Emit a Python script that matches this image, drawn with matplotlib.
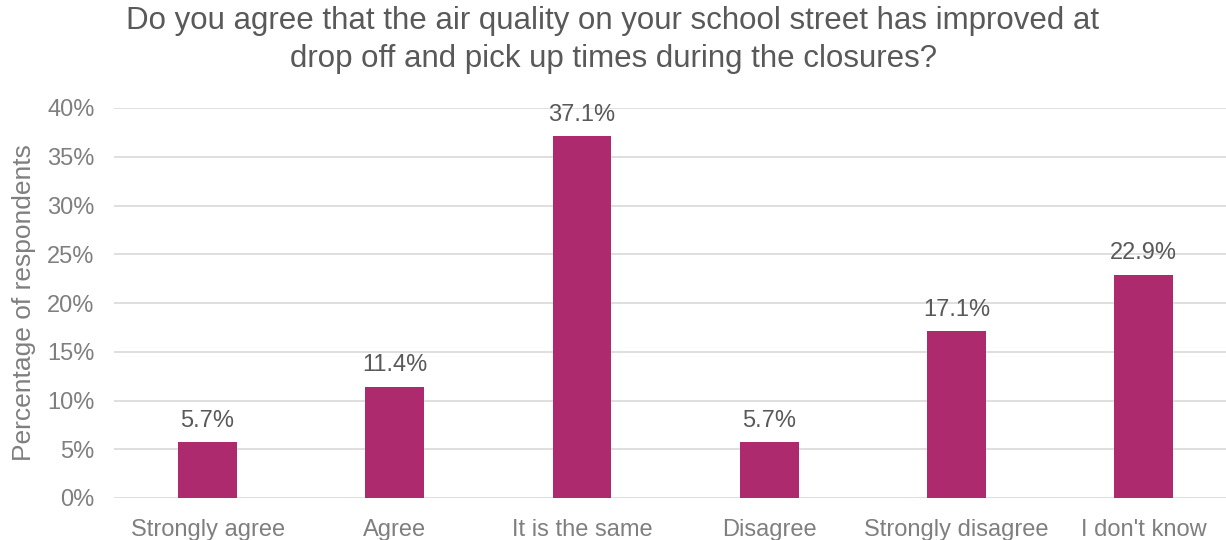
import matplotlib
matplotlib.use("Agg")
import matplotlib.pyplot as plt
from matplotlib.ticker import PercentFormatter

categories = ["Strongly agree", "Agree", "It is the same", "Disagree",
              "Strongly disagree", "I don't know"]
values = [5.7, 11.4, 37.1, 5.7, 17.1, 22.9]
yticks = [0, 5, 10, 15, 20, 25, 30, 35, 40]

plt.rcParams["font.family"] = ["Liberation Sans", "DejaVu Sans"]

BAR = "#AD2A6E"
GRAY = "#7F7F7F"
DARK = "#595959"

fig = plt.figure(figsize=(12.26, 5.4), dpi=100)
ax = fig.add_axes([114 / 1226, 1 - 498 / 540, 1 - 114 / 1226, 390 / 540])

x = range(len(categories))
bars = ax.bar(x, values, width=0.315, color=BAR, zorder=3)
for b, v in zip(bars, values):
    ax.text(b.get_x() + b.get_width() / 2, v + 1.1, f"{v:.1f}%",
            ha="center", va="bottom", fontsize=17, color=DARK)

ax.set_xlim(-0.5, 5.44)
ax.set_ylim(0, 40)
ax.set_yticks(yticks)
ax.yaxis.set_major_formatter(PercentFormatter(decimals=0))
ax.set_xticks(list(x))
ax.set_xticklabels(categories)
ax.tick_params(axis="both", length=0, labelsize=17, colors=GRAY)
ax.tick_params(axis="x", pad=15)
ax.tick_params(axis="y", pad=14)
ax.grid(axis="y", color="#D9D9D9", linewidth=1.2, zorder=0)
for s in ax.spines.values():
    s.set_visible(False)

ax.set_ylabel("Percentage of respondents", fontsize=19, color=GRAY, labelpad=8)
fig.suptitle("Do you agree that the air quality on your school street has improved at\n"
             "drop off and pick up times during the closures?",
             x=0.5, y=0.988, fontsize=22.5, color=DARK, linespacing=1.32)

fig.savefig("out.png", dpi=100, facecolor="white")
